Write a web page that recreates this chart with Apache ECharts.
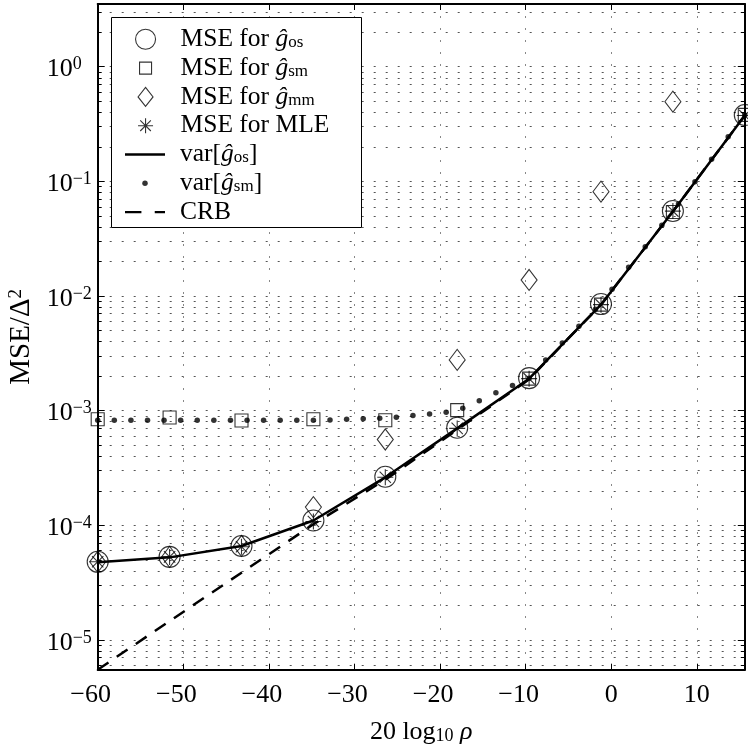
<!DOCTYPE html>
<html><head><meta charset="utf-8">
<script src="https://cdn.jsdelivr.net/npm/echarts@6/dist/echarts.min.js"></script>
<style>html,body{margin:0;padding:0;background:#fff}#c{width:748px;height:747px}</style>
</head><body><div id="c"></div>
<script>
// ---- data ----
const xPts   = [-60, -51.6, -43.2, -34.8, -26.4, -18, -9.6, -1.2, 7.2, 15.6];
const mseOs  = [4.8e-5, 5.3e-5, 6.6e-5, 1.1e-4, 2.65e-4, 7.1e-4, 1.92e-3, 8.5e-3, 0.0551, 0.379];
const mseSm  = [8.4e-4, 8.7e-4, 8.2e-4, 8.4e-4, 8.25e-4, 1.01e-3, 1.9e-3, 8.4e-3, 0.054, 0.38];
const mseMm  = [4.8e-5, 5.3e-5, 6.6e-5, 1.44e-4, 5.6e-4, 2.77e-3, 0.0138, 0.0813, 0.495, null];
const mseMle = [4.8e-5, 5.3e-5, 6.5e-5, 1.08e-4, 2.62e-4, 7.0e-4, 1.9e-3, 8.4e-3, 0.055, 0.375];
const varOs  = [4.75e-5, 5.25e-5, 6.6e-5, 1.1e-4, 2.62e-4, 7.0e-4, 1.9e-3, 8.4e-3, 0.0545, 0.375];
const crb    = [5.5e-6, 1.46e-5, 3.86e-5, 1.02e-4, 2.5e-4, 6.8e-4, 1.88e-3, 8.4e-3, 0.0545, 0.375];
const xFine  = [-60, -58.06, -56.12, -54.18, -52.25, -50.31, -48.37, -46.43, -44.49, -42.55,
                -40.62, -38.68, -36.74, -34.8, -32.86, -30.92, -28.98, -27.05, -25.11, -23.17,
                -21.23, -19.29, -17.35, -15.42, -13.48, -11.54, -9.6, -7.66, -5.72, -3.78,
                -1.85, 0.09, 2.03, 3.97, 5.91, 7.85, 9.78, 11.72, 13.66, 15.6];
const varSm  = [8.25e-4, 8.25e-4, 8.25e-4, 8.25e-4, 8.25e-4, 8.25e-4, 8.25e-4, 8.25e-4, 8.25e-4, 8.25e-4,
                8.25e-4, 8.25e-4, 8.25e-4, 8.25e-4, 8.3e-4, 8.4e-4, 8.5e-4, 8.6e-4, 8.75e-4, 9.05e-4,
                9.35e-4, 9.7e-4, 1.05e-3, 1.22e-3, 1.43e-3, 1.66e-3, 1.92e-3, 2.77e-3, 3.89e-3, 5.44e-3,
                7.66e-3, 0.01145, 0.0178, 0.0269, 0.0414, 0.0635, 0.0993, 0.156, 0.245, 0.378];
const xTicks   = [-60, -50, -40, -30, -20, -10, 0, 10];
const yDecades = [1e-5, 1e-4, 1e-3, 1e-2, 1e-1, 1];
const xMin = -60, xMax = 15.6, yMin = 5.5e-6, yMax = 3.52;
const seriesNames = ['MSE os', 'MSE sm', 'MSE mm', 'MSE MLE', 'var os', 'var sm', 'CRB'];

// ---- helpers ----
const F = 'Liberation Serif';
function pairs(xs, ys) { return xs.map((x, i) => ys[i] == null ? null : [x, ys[i]]).filter(Boolean); }
const yMinor = [];
[1e-6, 1e-5, 1e-4, 1e-3, 1e-2, 1e-1, 1].forEach(d => {
  for (let k = 1; k <= 9; k++) { const v = +(k * d).toPrecision(3); if (v >= yMin && v <= yMax) yMinor.push(v); }
});
const STAR = 'path://M8,0L8,16M0,8L16,8M2.34,2.34L13.66,13.66M2.34,13.66L13.66,2.34';
const hollow = { color: 'rgba(0,0,0,0)', borderColor: '#000', borderWidth: 1.1 };

const tickRich = {
  b: { fontFamily: F, fontSize: 26, lineHeight: 28, verticalAlign: 'middle', color: '#000' },
  s: { fontFamily: F, fontSize: 18, lineHeight: 10, verticalAlign: 'top', color: '#000' },
  n: { fontFamily: F, fontSize: 26, lineHeight: 28, color: '#000', padding: [0, 14, 0, 0] },
  m: { fontFamily: F, fontSize: 26, lineHeight: 28, color: '#000' }
};

// legend rows
const rowC = [38.3, 67.1, 95.9, 124.7, 153.5, 182.3, 211.1];
const legLabels = [
  '{p|MSE for }{g|ĝ}{s|os}',
  '{p|MSE for }{g|ĝ}{s|sm}',
  '{p|MSE for }{g|ĝ}{s|mm}',
  '{p|MSE for MLE}',
  '{p|var[}{g|ĝ}{s|os}{a|]}',
  '{p|var[}{g|ĝ}{s|sm}{a|]}',
  '{p|CRB}'
];
const legIcons = [
  { icon: 'circle', w: 20, h: 20, style: hollow },
  { icon: 'rect', w: 12, h: 12, style: hollow },
  { icon: 'diamond', w: 15, h: 19, style: hollow },
  { icon: STAR, w: 15, h: 17, style: hollow },
  { icon: 'rect', w: 40, h: 2.5, style: { color: '#000', borderWidth: 0 } },
  { icon: 'circle', w: 5.5, h: 5.5, style: { color: '#000', borderWidth: 0 } },
  { icon: 'path://M0,0h16v2h-16zM29,0h10v2h-10z', w: 40, h: 2.5, style: { color: '#000', borderWidth: 0 } }
];
const LF = 25.5;
const legends = seriesNames.map((nm, i) => {
  const ic = legIcons[i];
  const left = 145 - ic.w / 2;
  const pad = 180 - (left + ic.w + 5);
  return {
    show: true, data: [{ name: nm, icon: ic.icon }], orient: 'vertical',
    left: left, top: rowC[i] - 12, padding: 0, itemWidth: ic.w, itemHeight: ic.h,
    selectedMode: false, z: 10, itemStyle: ic.style,
    formatter: () => legLabels[i],
    textStyle: { rich: {
      p: { fontFamily: F, fontSize: LF, lineHeight: 24, verticalAlign: 'middle', color: '#000', padding: [0, 0, 0, pad] },
      a: { fontFamily: F, fontSize: LF, lineHeight: 24, verticalAlign: 'middle', color: '#000' },
      g: { fontFamily: F, fontSize: LF, fontStyle: 'italic', lineHeight: 24, verticalAlign: 'middle', color: '#000' },
      s: { fontFamily: F, fontSize: 17, lineHeight: 12, verticalAlign: 'bottom', color: '#000' }
    } }
  };
});

const blackLine = { show: true, onZero: false, lineStyle: { color: '#000', width: 2 } };
const gridLeft = 97.7, gridTop = 4, gridRight = 748 - 744.8, gridBottom = 747 - 669.7;

const option = {
  animation: false,
  backgroundColor: '#fff',
  grid: { left: gridLeft, right: gridRight, top: gridTop, bottom: gridBottom, containLabel: false, outerBoundsMode: 'none' },
  graphic: [{ type: 'rect', z: 3, shape: { x: 111.5, y: 17.5, width: 250, height: 210 },
              style: { fill: '#fff', stroke: '#000', lineWidth: 1 } }],
  legend: legends,
  xAxis: [
    { type: 'value', min: xMin, max: xMax, position: 'bottom',
      axisLine: blackLine,
      axisTick: { show: true, inside: true, length: 6, customValues: xTicks, lineStyle: { color: '#000', width: 1 } },
      axisLabel: { show: true, customValues: xTicks, margin: 11, color: '#000',
        formatter: v => v < 0 ? '{n|\u2212' + (-v) + '}' : '{m|' + v + '}', rich: tickRich },
      splitLine: { show: true, lineStyle: { color: '#888', width: 1, type: [2, 10] } },
      name: '{t|20 log}{s|10}{t| }{i|\u03c1}', nameLocation: 'middle', nameGap: 48,
      nameTextStyle: { rich: {
        t: { fontFamily: F, fontSize: 26, lineHeight: 28, color: '#000' },
        i: { fontFamily: F, fontSize: 26, fontStyle: 'italic', lineHeight: 28, color: '#000' },
        s: { fontFamily: F, fontSize: 18, lineHeight: 10, verticalAlign: 'bottom', color: '#000' } } } },
    { type: 'value', min: xMin, max: xMax, position: 'top',
      axisLine: blackLine,
      axisTick: { show: true, inside: true, length: 6, customValues: xTicks, lineStyle: { color: '#000', width: 1 } },
      axisLabel: { show: false }, splitLine: { show: false } }
  ],
  yAxis: [
    { type: 'log', min: yMin, max: yMax, position: 'left',
      axisLine: blackLine,
      axisTick: { show: true, inside: true, length: 4, customValues: yMinor, lineStyle: { color: '#000', width: 1 } },
      axisLabel: { show: false },
      splitLine: { show: true, lineStyle: { color: '#555', width: 1, type: [2, 10] } } },
    { type: 'log', min: yMin, max: yMax, position: 'left',
      axisLine: { show: false, onZero: false },
      axisTick: { show: true, inside: true, length: 7, customValues: yDecades, lineStyle: { color: '#000', width: 1 } },
      axisLabel: { show: true, customValues: yDecades, margin: 51, align: 'left', padding: [6, 0, 0, 0],
        formatter: v => { const e = Math.round(Math.log10(v)); return '{b|10}{s|' + (e < 0 ? '\u2212' + (-e) : e) + '}'; },
        rich: tickRich },
      splitLine: { show: false },
      name: '{t|MSE/\u0394}{p|2}', nameLocation: 'middle', nameGap: 60,
      nameTextStyle: { rich: {
        t: { fontFamily: F, fontSize: 29, lineHeight: 30, verticalAlign: 'middle', color: '#000' },
        p: { fontFamily: F, fontSize: 19, lineHeight: 10, verticalAlign: 'top', color: '#000' } } } },
    { type: 'log', min: yMin, max: yMax, position: 'right',
      axisLine: blackLine,
      axisTick: { show: true, inside: true, length: 4, customValues: yMinor, lineStyle: { color: '#000', width: 1 } },
      axisLabel: { show: false }, splitLine: { show: false } },
    { type: 'log', min: yMin, max: yMax, position: 'right',
      axisLine: { show: false, onZero: false },
      axisTick: { show: true, inside: true, length: 7, customValues: yDecades, lineStyle: { color: '#000', width: 1 } },
      axisLabel: { show: false }, splitLine: { show: false } }
  ],
  series: [
    { name: seriesNames[0], type: 'scatter', data: pairs(xPts, mseOs), symbol: 'circle', symbolSize: 21, itemStyle: hollow, z: 5, silent: true },
    { name: seriesNames[1], type: 'scatter', data: pairs(xPts, mseSm), symbol: 'rect', symbolSize: 13, itemStyle: hollow, z: 5, silent: true },
    { name: seriesNames[2], type: 'scatter', data: pairs(xPts, mseMm), symbol: 'diamond', symbolSize: [16, 21], itemStyle: hollow, z: 5, silent: true },
    { name: seriesNames[3], type: 'scatter', data: pairs(xPts, mseMle), symbol: STAR, symbolSize: 16, itemStyle: hollow, z: 5, silent: true },
    { name: seriesNames[4], type: 'line', data: pairs(xPts, varOs), symbol: 'none', lineStyle: { color: '#000', width: 2.5 }, z: 4, silent: true },
    { name: seriesNames[5], type: 'scatter', data: pairs(xFine, varSm), symbol: 'circle', symbolSize: 5.5, itemStyle: { color: '#000' }, z: 4, silent: true },
    { name: seriesNames[6], type: 'line', data: pairs(xPts, crb), symbol: 'none', lineStyle: { color: '#000', width: 2.5, type: [13, 10] }, z: 4, silent: true }
  ]
};
const chart = echarts.init(document.getElementById('c'), null, { renderer: 'canvas' });
chart.setOption(option);
</script>
</body></html>
